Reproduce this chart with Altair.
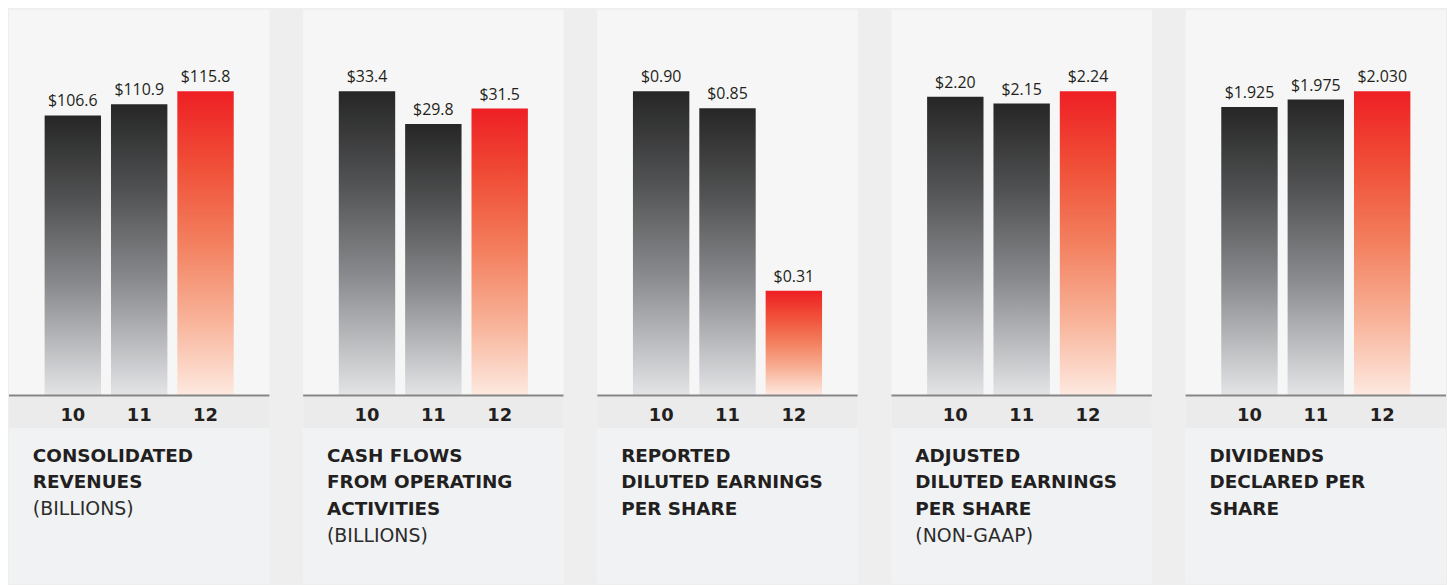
import altair as alt
import pandas as pd

# ---- data ----
years = ["10", "11", "12"]
revenues = [106.6, 110.9, 115.8]
cash_flows = [33.4, 29.8, 31.5]
reported_eps = [0.90, 0.85, 0.31]
adjusted_eps = [2.20, 2.15, 2.24]
dividends = [1.925, 1.975, 2.030]

revenue_labels = ["$106.6", "$110.9", "$115.8"]
cash_labels = ["$33.4", "$29.8", "$31.5"]
reported_labels = ["$0.90", "$0.85", "$0.31"]
adjusted_labels = ["$2.20", "$2.15", "$2.24"]
dividend_labels = ["$1.925", "$1.975", "$2.030"]

titles = [
    ["CONSOLIDATED", "REVENUES"],
    ["CASH FLOWS", "FROM OPERATING", "ACTIVITIES"],
    ["REPORTED", "DILUTED EARNINGS", "PER SHARE"],
    ["ADJUSTED", "DILUTED EARNINGS", "PER SHARE"],
    ["DIVIDENDS", "DECLARED PER", "SHARE"],
]
subtitles = ["(BILLIONS)", "(BILLIONS)", "", "(NON-GAAP)", ""]

series = [revenues, cash_flows, reported_eps, adjusted_eps, dividends]
label_sets = [revenue_labels, cash_labels, reported_labels, adjusted_labels, dividend_labels]

# ---- styling ----
W = 262
H = 577
ZERO_PX = 388      # pixel row (from panel top) of the baseline
TOP_PX = 82        # pixel row of the tallest bar's top
TEXT = "#231f20"

dark_grad = {
    "gradient": "linear", "x1": 0, "y1": 0, "x2": 0, "y2": 1,
    "stops": [
        {"offset": 0, "color": "#262626"},
        {"offset": 0.3, "color": "#515253"},
        {"offset": 0.6, "color": "#88898c"},
        {"offset": 1, "color": "#e3e4e6"},
    ],
}
red_grad = {
    "gradient": "linear", "x1": 0, "y1": 0, "x2": 0, "y2": 1,
    "stops": [
        {"offset": 0, "color": "#ee1f24"},
        {"offset": 0.25, "color": "#f05038"},
        {"offset": 0.5, "color": "#f3805f"},
        {"offset": 0.75, "color": "#f8b298"},
        {"offset": 1, "color": "#fde9e0"},
    ],
}

x_scale = alt.Scale(domain=years, paddingInner=0.15, paddingOuter=0.537)
one = pd.DataFrame({"k": [0]})


def panel(vals, labels, title_lines, subtitle):
    df = pd.DataFrame({"year": years, "value": vals, "label": labels})
    u = max(vals) / (ZERO_PX - TOP_PX)
    y_scale = alt.Scale(domain=[-(H - ZERO_PX) * u, ZERO_PX * u], nice=False, zero=False)

    band = alt.Chart(one).mark_rect(color="#ebebeb").encode(
        x=alt.value(0), x2=alt.value(W), y=alt.value(ZERO_PX + 1), y2=alt.value(ZERO_PX + 33)
    )
    lower = alt.Chart(one).mark_rect(color="#f1f2f4").encode(
        x=alt.value(0), x2=alt.value(W), y=alt.value(ZERO_PX + 33), y2=alt.value(H)
    )

    base = alt.Chart(df).encode(x=alt.X("year:N", scale=x_scale, axis=None))
    yenc = alt.Y("value:Q", scale=y_scale, axis=None)

    dark = base.transform_filter("datum.year != '12'").mark_bar(color=dark_grad).encode(
        y=yenc, y2=alt.datum(0)
    )
    red = base.transform_filter("datum.year == '12'").mark_bar(color=red_grad).encode(
        y=yenc, y2=alt.datum(0)
    )
    vlabels = base.mark_text(
        baseline="alphabetic", dy=-9, font="Open Sans", fontSize=16, color=TEXT
    ).encode(y=yenc, text="label:N")

    axis_line = alt.Chart(one).mark_rule(color="#858585", strokeWidth=2).encode(
        x=alt.value(0), x2=alt.value(W), y=alt.value(ZERO_PX)
    )

    xlabels = base.mark_text(
        baseline="alphabetic", font="DejaVu Sans", fontWeight="bold", fontSize=18, color=TEXT
    ).encode(y=alt.value(ZERO_PX + 26), text="year:N")

    title = alt.Chart(one).mark_text(
        align="left", baseline="alphabetic", font="DejaVu Sans", fontWeight="bold",
        fontSize=18.5, lineHeight=26.7, color=TEXT
    ).encode(x=alt.value(24), y=alt.value(455), text=alt.value(title_lines))

    layers = [band, lower, dark, red, vlabels, axis_line, xlabels, title]
    if subtitle:
        sub = alt.Chart(one).mark_text(
            align="left", baseline="alphabetic", font="DejaVu Sans", fontWeight="normal",
            fontSize=19, color="#2b2b2b"
        ).encode(x=alt.value(24), y=alt.value(455 + 26.7 * len(title_lines)), text=alt.value(subtitle))
        layers.append(sub)

    return alt.layer(*layers).properties(width=W, height=H)


charts = [panel(v, l, t, s) for v, l, t, s in zip(series, label_sets, titles, subtitles)]

chart = (
    alt.hconcat(*charts, spacing=32)
    .properties(padding=0, background="#eeeeee")
    .configure_view(fill="#f6f6f6", stroke=None)
)

chart.save("out.html", embed_options={"renderer": "svg", "actions": False})
